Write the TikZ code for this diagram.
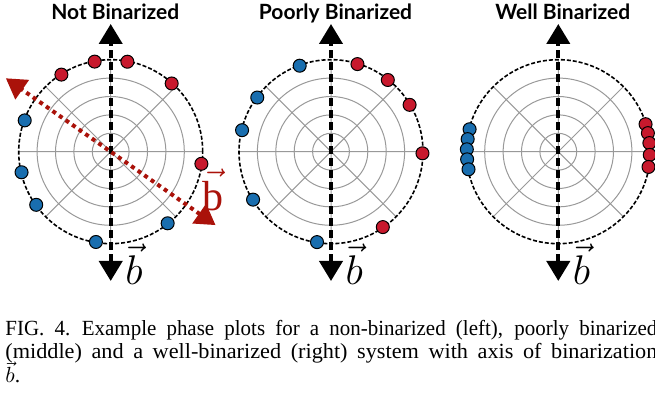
\documentclass[tikz,border=0pt]{standalone}
\usepackage{graphicx}
\usepackage{fontspec}
\setmainfont{Liberation Serif}
\newfontfamily\titlefont{Lato}
\usetikzlibrary{arrows.meta}

\definecolor{dotred}{RGB}{200,25,45}
\definecolor{dotblue}{RGB}{25,110,175}
\definecolor{axisred}{RGB}{170,18,10}

\tikzset{
  polargrid/.style={gray!80,line width=0.5pt},
  rim/.style={black,line width=0.8pt,dash pattern=on 2pt off 1pt},
  reddot/.style={fill=dotred,draw=black,line width=0.5pt},
  bluedot/.style={fill=dotblue,draw=black,line width=0.5pt},
  baxis/.style={line width=2pt,dash pattern=on 4pt off 2pt,
    {Triangle[length=10pt,width=11.5pt]}-{Triangle[length=10pt,width=11.5pt]}},
  raxis/.style={axisred,line width=2pt,dash pattern=on 2pt off 2pt,
    {Triangle[length=10pt,width=11.5pt]}-{Triangle[length=10pt,width=11.5pt]}},
  paneltitle/.style={anchor=base,font=\titlefont\bfseries\fontsize{10.5}{12}\selectfont},
  veclabel/.style={inner sep=0pt,font=\fontsize{21}{24}\selectfont},
  captionline/.style={anchor=base west,inner sep=0pt,font=\fontsize{10.8}{12}\selectfont}
}

\begin{document}
\begin{tikzpicture}[x=0.5pt,y=0.5pt]
  \clip (0,0) rectangle (655,405);
% Not binarized
  \begin{scope}[shift={(110.7,253.3)}]
    \draw[polargrid] (0,0) circle (18.4) circle (36.8) circle (55.2) circle (73.6);
    \draw[polargrid] (0:92) -- (180:92) (45:92) -- (225:92) (90:92) -- (270:92) (135:92) -- (315:92);
    \draw[rim] (0,0) circle (92);
    \filldraw[reddot] (100.1:91.5) circle (6.5);
    \filldraw[reddot] (79.5:91.5) circle (6.5);
    \filldraw[reddot] (122.6:91.5) circle (6.5);
    \filldraw[reddot] (48.2:91.5) circle (6.5);
    \filldraw[reddot] (-7.6:91.5) circle (6.5);
    \filldraw[bluedot] (160:91.5) circle (6.5);
    \filldraw[bluedot] (193:91.5) circle (6.5);
    \filldraw[bluedot] (215.5:91.5) circle (6.5);
    \filldraw[bluedot] (308.5:91.5) circle (6.5);
    \filldraw[bluedot] (260.7:91.5) circle (6.5);
    \coordinate (top1) at (0,127.7);
    \coordinate (bot1) at (0,-129.3);
    \draw[baxis] (bot1) -- (top1);
    \coordinate (rtop1) at (145:128);
    \coordinate (rbot1) at (-35:128);
    \draw[raxis] (rbot1) -- (rtop1);
    \node[veclabel] (blab1) at (23.3,-112.3) {$\vec{b}$};
    \node[veclabel,text=axisred] (rlab1) at (102.3,-38.3) {$\vec{\mathrm{b}}$};
    \node[paneltitle] (title1) at (4.5,131.7) {Not Binarized};
  \end{scope}
% Poorly binarized
  \begin{scope}[shift={(331,253.3)}]
    \draw[polargrid] (0,0) circle (18.4) circle (36.8) circle (55.2) circle (73.6);
    \draw[polargrid] (0:92) -- (180:92) (45:92) -- (225:92) (90:92) -- (270:92) (135:92) -- (315:92);
    \draw[rim] (0,0) circle (92);
    \filldraw[reddot] (73.2:91.5) circle (6.5);
    \filldraw[reddot] (51.6:91.5) circle (6.5);
    \filldraw[reddot] (30.8:91.5) circle (6.5);
    \filldraw[reddot] (-1:91.5) circle (6.5);
    \filldraw[reddot] (-55.5:91.5) circle (6.5);
    \filldraw[bluedot] (110:91.5) circle (6.5);
    \filldraw[bluedot] (143.7:91.5) circle (6.5);
    \filldraw[bluedot] (166.4:91.5) circle (6.5);
    \filldraw[bluedot] (211.6:91.5) circle (6.5);
    \filldraw[bluedot] (261.2:91.5) circle (6.5);
    \coordinate (top2) at (0,127.7);
    \coordinate (bot2) at (0,-129.3);
    \draw[baxis] (bot2) -- (top2);
    \node[veclabel] (blab2) at (23.3,-112.3) {$\vec{b}$};
    \node[paneltitle] (title2) at (4.5,131.7) {Poorly Binarized};
  \end{scope}
% Well binarized
  \begin{scope}[shift={(558.3,253.3)}]
    \draw[polargrid] (0,0) circle (18.4) circle (36.8) circle (55.2) circle (73.6);
    \draw[polargrid] (0:92) -- (180:92) (45:92) -- (225:92) (90:92) -- (270:92) (135:92) -- (315:92);
    \draw[rim] (0,0) circle (92);
    \filldraw[reddot] (17.5:91.5) circle (6.5);
    \filldraw[reddot] (11.7:91.5) circle (6.5);
    \filldraw[reddot] (5.4:91.5) circle (6.5);
    \filldraw[reddot] (-2:91.5) circle (6.5);
    \filldraw[reddot] (-9.6:91.5) circle (6.5);
    \filldraw[bluedot] (165.8:91.5) circle (6.5);
    \filldraw[bluedot] (172.1:91.5) circle (6.5);
    \filldraw[bluedot] (178.5:91.5) circle (6.5);
    \filldraw[bluedot] (184.8:91.5) circle (6.5);
    \filldraw[bluedot] (191.1:91.5) circle (6.5);
    \coordinate (top3) at (0,127.7);
    \coordinate (bot3) at (0,-129.3);
    \draw[baxis] (bot3) -- (top3);
    \node[veclabel] (blab3) at (23.3,-112.3) {$\vec{b}$};
    \node[paneltitle] (title3) at (4.5,131.7) {Well Binarized};
  \end{scope}
% Caption (justified lines, cut by the right edge)
  \node[captionline] (cap1) at (5,69) {\scalebox{0.97}[1]{\makebox[336pt][s]{FIG.~4.\hspace{6pt}Example phase plots for a non-binarized (left), poorly binarized}}};
  \node[captionline] (cap2) at (5,46) {\scalebox{1.03}[1]{\makebox[316.5pt][s]{(middle) and a well-binarized (right) system with axis of binarization}}};
  \node[captionline] (cap3) at (5,22) {$\vec{b}$.};
\end{tikzpicture}
\end{document}
